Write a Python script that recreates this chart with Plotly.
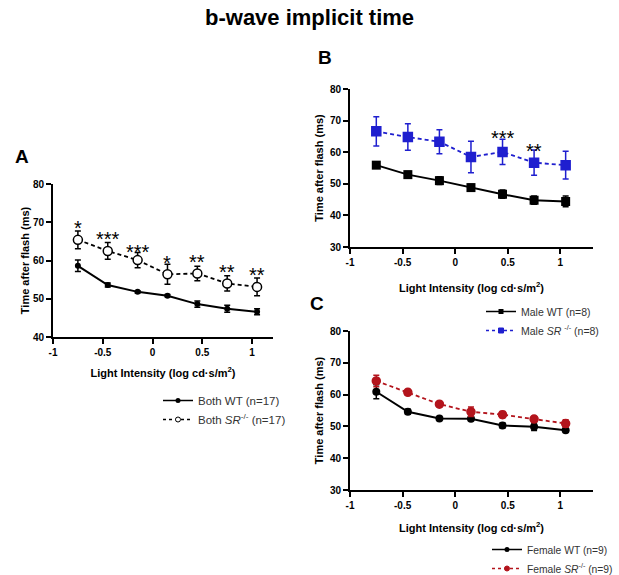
import plotly.graph_objects as go

# ---------------- data ----------------
x_int = [-0.75, -0.45, -0.15, 0.15, 0.45, 0.75, 1.05]
x_ticks = [-1, -0.5, 0, 0.5, 1]
x_ticktext = ["-1", "-0.5", "0", "0.5", "1"]

# Panel A (both sexes)
a_wt = [58.6, 53.6, 51.8, 50.8, 48.6, 47.4, 46.6]
a_wt_err = [1.5, 0.5, 0.3, 0.3, 0.8, 0.9, 0.8]
a_sr = [65.4, 62.5, 60.1, 56.4, 56.6, 54.0, 53.1]
a_sr_err = [2.3, 2.2, 2.0, 2.6, 1.9, 2.0, 2.3]
a_stars = ["*", "***", "***", "*", "**", "**", "**"]
a_star_y = [70.0, 67.2, 63.7, 60.9, 61.1, 58.5, 57.8]

# Panel B (male)
b_wt = [55.9, 52.9, 51.0, 48.8, 46.7, 44.8, 44.4]
b_wt_err = [1.0, 1.0, 1.2, 1.0, 1.3, 1.3, 1.7]
b_sr = [66.6, 64.8, 63.3, 58.5, 60.1, 56.7, 55.9]
b_sr_err = [4.6, 4.2, 3.8, 5.0, 4.0, 4.0, 4.4]
b_stars = ["", "", "", "", "***", "**", ""]
b_star_y = [None, None, None, None, 66.3, 62.3, None]

# Panel C (female)
c_wt = [60.9, 54.6, 52.5, 52.4, 50.3, 49.9, 48.8]
c_wt_err = [2.2, 0.8, 0.3, 0.4, 0.8, 1.2, 0.4]
c_sr = [64.3, 60.7, 57.0, 54.6, 53.7, 52.3, 50.9]
c_sr_err = [1.8, 0.9, 0.4, 1.5, 1.0, 0.8, 1.2]

W, H = 619, 575
def px_x(p):
    return p / W
def px_y(p):
    return 1 - p / H

FAM = "Liberation Sans, Arial, sans-serif"
BOLD = dict(family=FAM, size=10, color="black", weight="bold")

def legf(size):
    return dict(family=FAM, size=size, color="#333333")

fig = go.Figure()

def add_pair(xa, ya, wt, wte, sr, sre, wt_sym, wt_size, sr_sym, sr_size, sr_col,
             sr_fill, wt_name, sr_name, legend):
    fig.add_trace(go.Scatter(
        x=x_int, y=wt, xaxis=xa, yaxis=ya, mode="lines+markers", showlegend=False,
        line=dict(color="black", width=2),
        marker=dict(symbol=wt_sym, size=wt_size, color="black"),
        error_y=dict(type="data", array=wte, color="black", thickness=1.5, width=3)))
    fig.add_trace(go.Scatter(
        x=x_int, y=sr, xaxis=xa, yaxis=ya, mode="lines+markers", showlegend=False,
        line=dict(color=sr_col, width=1.8, dash="4px,3px"),
        marker=dict(symbol=sr_sym, size=sr_size, color=sr_fill,
                    line=dict(color=sr_col, width=1.5)),
        error_y=dict(type="data", array=sre, color=sr_col, thickness=1.5, width=3)))
    # legend entries (small symbols as in the reference)
    fig.add_trace(go.Scatter(
        x=[None], y=[None], xaxis=xa, yaxis=ya, mode="lines+markers", name=wt_name,
        line=dict(color="black", width=1.5),
        marker=dict(symbol=wt_sym, size=5, color="black"), legend=legend))
    fig.add_trace(go.Scatter(
        x=[None], y=[None], xaxis=xa, yaxis=ya, mode="lines+markers", name=sr_name,
        line=dict(color=sr_col, width=1.5, dash="3px,3px"),
        marker=dict(symbol=sr_sym, size=5, color=sr_fill,
                    line=dict(color=sr_col, width=1)), legend=legend))

add_pair("x", "y", a_wt, a_wt_err, a_sr, a_sr_err, "circle", 6, "circle", 9, "black",
         "white", "Both WT (n=17)", "Both <i>SR</i><sup>-/-</sup> (n=17)", "legend")
add_pair("x2", "y2", b_wt, b_wt_err, b_sr, b_sr_err, "square", 9, "square", 9, "#1f1fcf",
         "#1f1fcf", "Male WT (n=8)", "Male <i>SR</i> <sup>-/-</sup> (n=8)", "legend2")
add_pair("x3", "y3", c_wt, c_wt_err, c_sr, c_sr_err, "circle", 8, "circle", 8, "#b3141c",
         "#b3141c", "Female WT (n=9)", "Female <i>SR</i><sup>-/-</sup> (n=9)", "legend3")

xtitle = "Light Intensity (log cd·s/m<sup>2</sup>)"
ytitle = "Time after flash (ms)"

def xax(domain, rng, anchor, standoff):
    return dict(domain=domain, range=rng, anchor=anchor, tickvals=x_ticks,
                ticktext=x_ticktext, showline=True, linecolor="black", linewidth=2,
                ticks="outside", ticklen=5, tickwidth=2, tickcolor="black",
                showgrid=False, zeroline=False, tickfont=BOLD, automargin=False,
                title=dict(text=xtitle, font=dict(BOLD, size=11), standoff=standoff))

def yax(domain, rng, dtick, anchor, standoff):
    return dict(domain=domain, range=rng, anchor=anchor, dtick=dtick,
                showline=True, linecolor="black", linewidth=2,
                ticks="outside", ticklen=5, tickwidth=2, tickcolor="black",
                showgrid=False, zeroline=False, tickfont=BOLD, automargin=False,
                title=dict(text=ytitle, font=dict(BOLD, size=11), standoff=standoff))

fig.update_layout(
    width=W, height=H, margin=dict(l=0, r=0, t=0, b=0, autoexpand=False),
    paper_bgcolor="white", plot_bgcolor="white",
    xaxis=xax([px_x(53), px_x(273)], [-1, 1.21], "y", 12),
    yaxis=yax([px_y(337), px_y(184)], [40, 80], 10, "x", 1),
    xaxis2=xax([px_x(350), px_x(593)], [-1, 1.31], "y2", 17),
    yaxis2=yax([px_y(247), px_y(89)], [30, 80], 10, "x2", 4),
    xaxis3=xax([px_x(350), px_x(593)], [-1, 1.31], "y3", 14),
    yaxis3=yax([px_y(490), px_y(331)], [30, 80], 10, "x3", 4),
    legend=dict(x=px_x(158), y=px_y(386), xanchor="left", yanchor="top",
                font=legf(11.5), bgcolor="rgba(0,0,0,0)", itemwidth=30),
    legend2=dict(x=px_x(481), y=px_y(297), xanchor="left", yanchor="top",
                 font=legf(10.5), bgcolor="rgba(0,0,0,0)", itemwidth=30),
    legend3=dict(x=px_x(487), y=px_y(535), xanchor="left", yanchor="top",
                 font=legf(10.3), bgcolor="rgba(0,0,0,0)", itemwidth=30),
    showlegend=True,
)

ann = []
ann.append(dict(text="<b>b-wave implicit time</b>", x=0.5, y=px_y(18), xref="paper",
                yref="paper", showarrow=False, xanchor="center", yanchor="middle",
                font=dict(family=FAM, size=22, color="black")))
for lab, px, py in [("A", 22, 157), ("B", 325, 57), ("C", 317, 303)]:
    ann.append(dict(text="<b>%s</b>" % lab, x=px_x(px), y=px_y(py), xref="paper",
                    yref="paper", showarrow=False, xanchor="center", yanchor="middle",
                    font=dict(family=FAM, size=19, color="black")))
for xs, s, yv in zip(x_int, a_stars, a_star_y):
    ann.append(dict(text=s, x=xs, y=yv, xref="x", yref="y", showarrow=False,
                    yshift=-6, font=dict(family=FAM, size=20, color="black")))
for xs, s, yv in zip(x_int, b_stars, b_star_y):
    if s:
        ann.append(dict(text=s, x=xs, y=yv, xref="x2", yref="y2", showarrow=False,
                        yshift=-6, font=dict(family=FAM, size=20, color="black")))
fig.update_layout(annotations=ann)

fig.write_html("out.html")
